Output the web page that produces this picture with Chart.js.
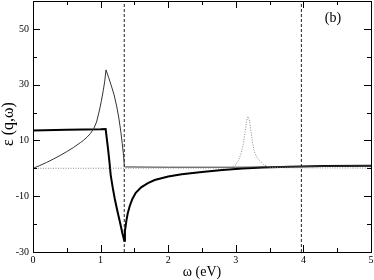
<!DOCTYPE html>
<html>
<head>
<meta charset="utf-8">
<script src="https://cdn.jsdelivr.net/npm/chart.js@4.4.1/dist/chart.umd.min.js"></script>
<style>
  body { margin: 0; background: #fff; }
  canvas { display: block; }
</style>
</head>
<body>
<canvas id="epsChart" width="374" height="280"></canvas>
<script>
// thin solid curve
const thinW = [0, 0.1, 0.2, 0.3, 0.4, 0.5, 0.6, 0.7, 0.75, 0.8, 0.85, 0.9, 0.94, 0.98, 1.01, 1.04, 1.06, 1.08,
  1.12, 1.16, 1.2, 1.24, 1.27, 1.3, 1.32, 1.34, 1.352, 1.37, 2.0, 3.0, 3.5, 4.0, 4.5, 5.0];
const thinEps = [0, 1.0, 2.1, 3.3, 4.6, 6.0, 7.5, 9.2, 10.1, 11.2, 12.5, 14.3, 16.6, 20.5, 24, 28, 31, 35.3,
  32.5, 29.5, 26.3, 22, 18, 13, 9, 4.5, 0.6, 0.5, 0.4, 0.4, 0.5, 0.65, 0.8, 0.95];

// thick solid curve
const thickW = [0, 0.5, 1.0, 1.075, 1.09, 1.11, 1.13, 1.15, 1.18, 1.21, 1.25, 1.29, 1.32, 1.35,
  1.36, 1.38, 1.4, 1.43, 1.47, 1.52, 1.6, 1.7, 1.8, 2.0, 2.2, 2.5, 2.8, 3.1, 3.4, 3.8, 4.3, 5.0];
const thickEps = [13.6, 13.8, 14.0, 14.1, 11, 7, 2.5, -2.5, -7, -11, -15.5, -19.7, -23, -26,
  -22.5, -19, -16.3, -13.6, -11, -8.8, -6.8, -5.3, -4.2, -2.9, -2.1, -1.3, -0.6, -0.1, 0.3, 0.6, 0.8, 0.95];

// dotted curve
const dotW = [0, 2.9, 2.95, 3.0, 3.04, 3.08, 3.11, 3.14, 3.16, 3.18, 3.2, 3.22, 3.245, 3.275, 3.31, 3.35, 3.41, 3.5, 3.7, 5.0];
const dotEps = [0, 0.1, 0.6, 1.3, 2.8, 5.5, 8.6, 13.5, 17, 18.6, 17.5, 14, 9.5, 6, 4, 2.8, 1.3, 0.4, 0.2, 0.1];

// vertical dashed markers
const markerW = [1.35, 3.97];

const xMajor = [0, 1, 2, 3, 4, 5];
const xMinor = [0.5, 1.5, 2.5, 3.5, 4.5];
const yMajor = [-30, -10, 10, 30, 50];
const yMinor = [-20, 0, 20, 40];

const pairs = (xs, ys) => xs.map((v, i) => ({ x: v, y: ys[i] }));

const frame = {
  id: 'frame',
  afterDatasetsDraw(chart) {
    const { ctx, chartArea: a, scales: { x, y } } = chart;
    ctx.save();
    ctx.strokeStyle = '#000';
    ctx.lineWidth = 1;
    ctx.strokeRect(a.left + 0.5, a.top + 0.5, a.right - a.left, a.bottom - a.top);

    const tickX = (v, len) => {
      const p = Math.round(x.getPixelForValue(v)) + 0.5;
      ctx.beginPath();
      ctx.moveTo(p, a.bottom); ctx.lineTo(p, a.bottom - len);
      ctx.moveTo(p, a.top); ctx.lineTo(p, a.top + len);
      ctx.stroke();
    };
    const tickY = (v, len) => {
      const p = Math.round(y.getPixelForValue(v)) + 0.5;
      ctx.beginPath();
      ctx.moveTo(a.left, p); ctx.lineTo(a.left + len, p);
      ctx.moveTo(a.right, p); ctx.lineTo(a.right - len, p);
      ctx.stroke();
    };
    xMajor.forEach(v => tickX(v, 7));
    xMinor.forEach(v => tickX(v, 4));
    yMajor.forEach(v => tickY(v, 7));
    yMinor.forEach(v => tickY(v, 4));

    ctx.fillStyle = '#000';
    ctx.font = '10px "Liberation Serif"';
    ctx.textAlign = 'center';
    ctx.textBaseline = 'top';
    xMajor.forEach(v => ctx.fillText(String(v), x.getPixelForValue(v), a.bottom + 3));
    ctx.textAlign = 'right';
    ctx.textBaseline = 'middle';
    yMajor.forEach(v => ctx.fillText(String(v), a.left - 4, y.getPixelForValue(v)));

    ctx.font = '14px "Liberation Serif"';
    ctx.textAlign = 'center';
    ctx.fillText('ω (eV)', (a.left + a.right) / 2, 272);
    ctx.fillText('(b)', 333, 18);

    ctx.save();
    ctx.translate(9, 124);
    ctx.rotate(-Math.PI / 2);
    ctx.font = '16px "Liberation Serif"';
    ctx.fillText('ε (q,ω)', 0, 0);
    ctx.restore();
    ctx.restore();
  }
};

new Chart(document.getElementById('epsChart'), {
  type: 'scatter',
  data: {
    datasets: [
      {
        data: pairs(dotW, dotEps),
        showLine: true, borderColor: '#8a8a8a', borderWidth: 1, borderDash: [1, 1.5],
        pointRadius: 0, tension: 0
      },
      {
        data: pairs(thinW, thinEps),
        showLine: true, borderColor: '#333', borderWidth: 1,
        pointRadius: 0, tension: 0
      },
      {
        data: pairs(thickW, thickEps),
        showLine: true, borderColor: '#000', borderWidth: 2,
        pointRadius: 0, tension: 0
      },
      ...markerW.map(w => ({
        data: [{ x: w, y: -30 }, { x: w, y: 60 }],
        showLine: true, borderColor: '#222', borderWidth: 1, borderDash: [3, 2],
        pointRadius: 0
      }))
    ]
  },
  options: {
    responsive: false,
    animation: false,
    layout: { padding: { left: 33, top: 1, right: 3, bottom: 28 } },
    plugins: { legend: { display: false }, tooltip: { enabled: false } },
    scales: {
      x: { type: 'linear', min: 0, max: 5, display: false },
      y: { type: 'linear', min: -30, max: 60, display: false }
    }
  },
  plugins: [frame]
});
</script>
</body>
</html>
